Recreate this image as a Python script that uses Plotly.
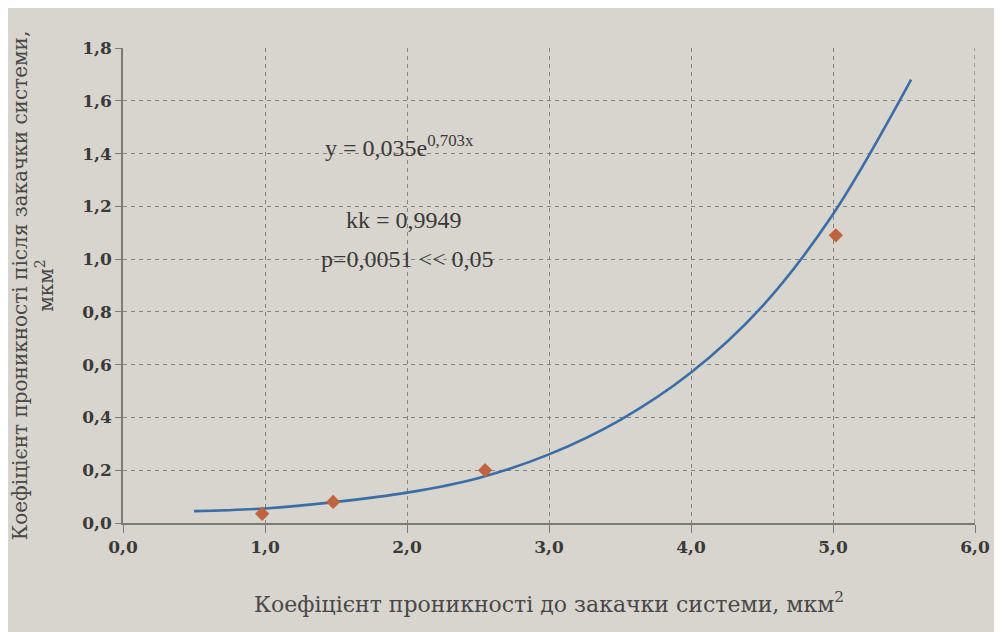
import plotly.graph_objects as go

# Observed data points
x_points = [0.98, 1.48, 2.55, 5.02]
y_points = [0.035, 0.08, 0.20, 1.09]

# Trend curve
x_curve = [0.5, 1.0, 1.5, 2.0, 2.5, 3.0, 3.5, 4.0, 4.5, 5.0, 5.55]
y_curve = [0.045, 0.055, 0.08, 0.115, 0.17, 0.26, 0.39, 0.57, 0.82, 1.17, 1.68]

x_ticks = [0, 1, 2, 3, 4, 5, 6]
y_ticks = [0, 0.2, 0.4, 0.6, 0.8, 1.0, 1.2, 1.4, 1.6, 1.8]

bg = "#d7d5ce"
txt = "#3a3a3a"
serif = "'Liberation Serif', Tinos, 'Times New Roman', serif"
wide_serif = "'DejaVu Serif', 'Liberation Serif', serif"

fig = go.Figure()
fig.add_trace(go.Scatter(x=x_curve, y=y_curve, mode="lines", line_shape="spline",
                         line=dict(color="#3b6ea6", width=2.6), showlegend=False))
fig.add_trace(go.Scatter(x=x_points, y=y_points, mode="markers",
                         marker=dict(symbol="diamond", size=11, color="#c0643f"),
                         showlegend=False))

ann_font = dict(family=serif, size=24, color=txt)
fig.add_annotation(x=1.95, y=1.43, text="y = 0,035e<sup>0,703x</sup>", showarrow=False, font=ann_font)
fig.add_annotation(x=1.98, y=1.15, text="kk = 0,9949", showarrow=False, font=ann_font)
fig.add_annotation(x=2.0, y=1.0, text="p=0,0051 << 0,05", showarrow=False, font=ann_font)

grid = dict(showgrid=True, gridcolor="#85857f", griddash="4px,4px", gridwidth=1.4)
tickfont = dict(family=wide_serif, size=17, color=txt, weight="bold")

fig.update_layout(
    width=1002, height=632,
    paper_bgcolor=bg, plot_bgcolor=bg,
    separators=", ",
    margin=dict(l=115, r=35, t=40, b=117, autoexpand=False),
    font=dict(family=serif, color=txt, size=17),
    xaxis=dict(range=[0, 6], tickvals=x_ticks, tickformat=".1f", zeroline=False,
               automargin=False,
               showline=True, linecolor="#7a7a76", linewidth=1.6,
               ticks="outside", ticklen=8, tickcolor="#7a7a76",
               tickfont=tickfont,
               title=dict(text="Коефіцієнт проникності до закачки системи, мкм<sup>2</sup>",
                          font=dict(family=wide_serif, size=22, color="#484848"), standoff=40),
               **grid),
    yaxis=dict(range=[0, 1.8], tickvals=y_ticks, tickformat=".1f", zeroline=False,
               automargin=False,
               showline=True, linecolor="#7a7a76", linewidth=1.6,
               ticks="outside", ticklen=6, tickcolor="#7a7a76",
               tickfont=tickfont,
               title=dict(text="Коефіцієнт проникності після закачки системи,<br>мкм<sup>2</sup>",
                          font=dict(family=wide_serif, size=20, color="#484848"), standoff=24),
               **grid),
)
fig.add_shape(type="line", xref="x", yref="y", x0=6, x1=6, y0=0, y1=1.8,
              line=dict(color="#85857f", dash="4px,4px", width=1.4))

fig.write_html("out.html")
